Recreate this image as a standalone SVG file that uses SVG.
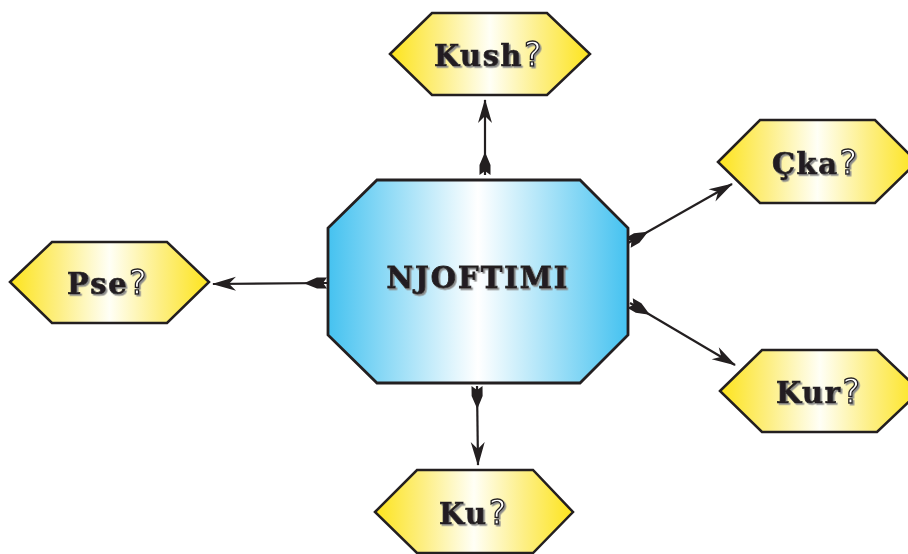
<svg xmlns="http://www.w3.org/2000/svg" width="908" height="554" viewBox="0 0 908 554">
<defs>
<linearGradient id="gy" x1="0" y1="0" x2="1" y2="0">
<stop offset="0" stop-color="#fde41c"/>
<stop offset="0.25" stop-color="#fdef86"/>
<stop offset="0.5" stop-color="#fffff6"/>
<stop offset="0.75" stop-color="#fdef86"/>
<stop offset="1" stop-color="#fde41c"/>
</linearGradient>
<linearGradient id="gb" x1="0" y1="0" x2="1" y2="0">
<stop offset="0" stop-color="#45c2f0"/>
<stop offset="0.5" stop-color="#ffffff"/>
<stop offset="1" stop-color="#45c2f0"/>
</linearGradient>
<filter id="sh" x="-10%" y="-20%" width="130%" height="150%">
<feDropShadow dx="1.6" dy="1.6" stdDeviation="0.3" flood-color="#8a8a8a" flood-opacity="1"/>
</filter>
<marker id="head" markerUnits="userSpaceOnUse" markerWidth="30" markerHeight="20" refX="0" refY="0" viewBox="-24 -10 26 20" orient="auto" overflow="visible">
<path d="M1,0 L-23,-7 L-16,0 L-23,7 Z" fill="#231f20"/>
</marker>
<marker id="tail" markerUnits="userSpaceOnUse" markerWidth="30" markerHeight="20" refX="0" refY="0" viewBox="-2 -10 30 20" orient="auto" overflow="visible">
<path d="M0,-5.5 L10,-5.5 Q16,-3 23,0 Q16,3 10,5.5 L0,5.5 L4,0 Z" fill="#231f20"/>
</marker>
<style>
.hex{fill:url(#gy);stroke:#231f20;stroke-width:2.5;stroke-linejoin:miter}
.oct{fill:url(#gb);stroke:#231f20;stroke-width:2.8}
.lab{font-family:"DejaVu Serif","Liberation Serif",serif;font-weight:bold;font-size:29px;fill:#231f20;stroke:#231f20;stroke-width:0.7;letter-spacing:1.5px}
.q{font-family:"DejaVu Sans","Liberation Sans",sans-serif;font-weight:normal;font-size:33px;fill:#ffffff;stroke:#231f20;stroke-width:1.3;letter-spacing:0}
.main{font-family:"DejaVu Serif","Liberation Serif",serif;font-weight:bold;font-size:29px;fill:#231f20;stroke:#231f20;stroke-width:0.8;letter-spacing:2px}
.con{fill:none;stroke:#231f20;stroke-width:2.2;marker-start:url(#tail);marker-end:url(#head)}
</style>
</defs>
<g id="connectors">
<path class="con" d="M485,175 L485,100"/>
<path class="con" d="M628,243 L732,184"/>
<path class="con" d="M327,283 L213,284"/>
<path class="con" d="M630,303 L735,365"/>
<path class="con" d="M477,386 L478,465"/>
</g>
<g id="njoftimi">
<polygon class="oct" points="377,180 580,180 628,228 628,335 580,383 377,383 328,335 328,228"/>
<text class="main" x="478" y="288" text-anchor="middle" filter="url(#sh)">NJOFTIMI</text>
</g>
<g id="kush">
<polygon class="hex" points="390,54 432,13 547,13 590,54 547,95 432,95"/>
<text class="lab" x="434" y="66" filter="url(#sh)">Kush<tspan class="q" dx="1">?</tspan></text>
</g>
<g id="cka">
<polygon class="hex" points="718,162 760,120 875,120 917,162 875,203 760,203"/>
<text class="lab" x="772" y="174" filter="url(#sh)">Çka<tspan class="q" dx="1">?</tspan></text>
</g>
<g id="pse">
<polygon class="hex" points="10,282 52,242 167,242 209,282 167,323 52,323"/>
<text class="lab" x="67" y="294" filter="url(#sh)">Pse<tspan class="q" dx="1">?</tspan></text>
</g>
<g id="kur">
<polygon class="hex" points="720,391 762,350 877,350 920,391 877,432 762,432"/>
<text class="lab" x="776" y="403" filter="url(#sh)">Kur<tspan class="q" dx="1">?</tspan></text>
</g>
<g id="ku">
<polygon class="hex" points="375,512 417,470 533,470 573,512 533,553 417,553"/>
<text class="lab" x="439" y="524" filter="url(#sh)">Ku<tspan class="q" dx="1">?</tspan></text>
</g>
</svg>
